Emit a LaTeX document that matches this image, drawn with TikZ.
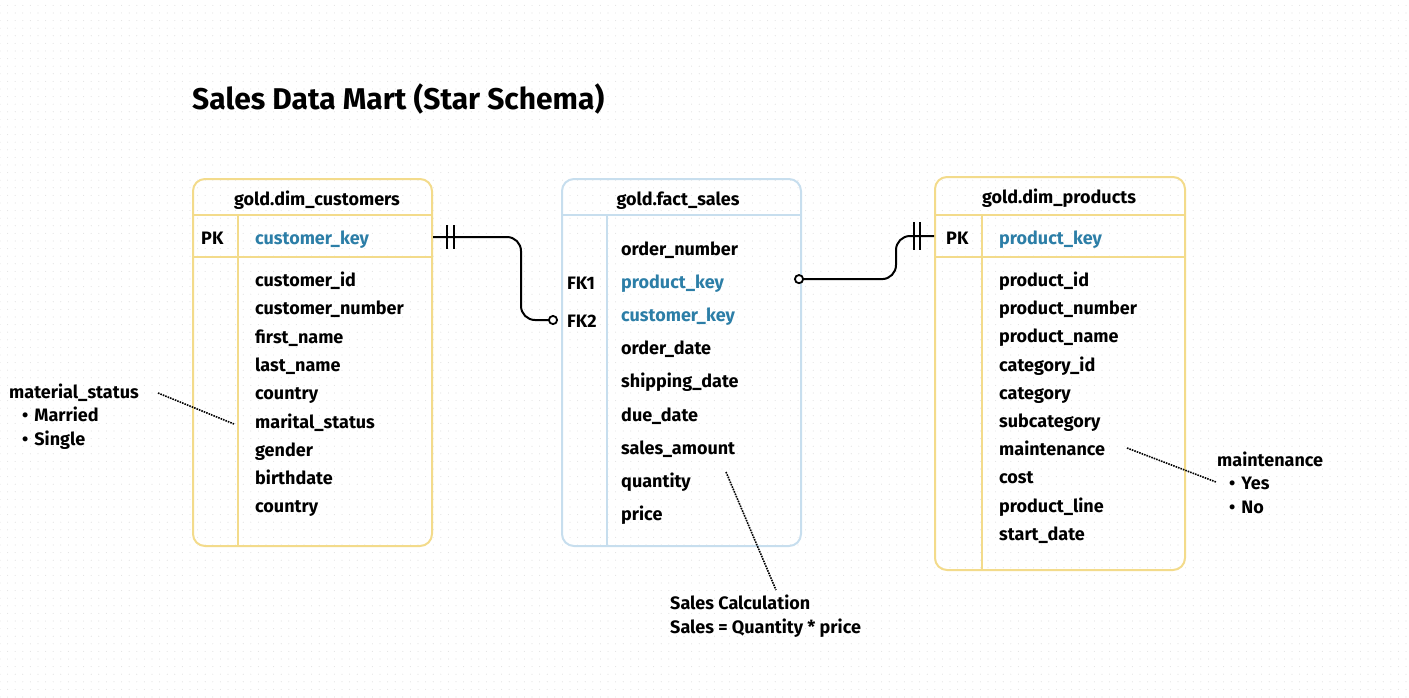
\documentclass[tikz,border=0pt]{standalone}
\usepackage{fontspec}
\setmainfont{Fira Sans}
\usetikzlibrary{positioning,calc,arrows.meta,patterns.meta}

\definecolor{goldline}{HTML}{F3DB8B}
\definecolor{factline}{HTML}{C7DEEE}
\definecolor{keyblue}{HTML}{2C7EA7}
\definecolor{griddot}{HTML}{E2E2E2}

\tikzset{
  tbl/.style={draw=#1, line width=2pt, rounded corners=12pt, inner sep=0pt},
  sep/.style={draw=#1, line width=2pt},
  fld/.style={anchor=west, inner sep=0pt, text height=12.5pt, text depth=3.5pt, yshift=-2pt,
    font=\bfseries\fontsize{18}{21}\selectfont},
  hdr/.style={fld, anchor=center},
  key/.style={fld, text=keyblue},
  conn/.style={line width=2pt, rounded corners=14pt},
  ring/.tip={Circle[open, fill=white, length=10pt, width=10pt, line width=1.8pt]},
  note/.style={densely dotted, line width=1.6pt},
}

\begin{document}
\begin{tikzpicture}[x=1pt, y=-1pt]
    \useasboundingbox (0,0) rectangle (1409,697);
    \fill[pattern={Dots[distance=7.6pt, radius=0.6pt]}, pattern color=griddot] (0,0) rectangle (1409,697);

    \node[anchor=base west, inner sep=0pt, font=\bfseries\fontsize{30}{34}\selectfont] (title) at (192,109) {Sales Data Mart (Star Schema)};

    % customers
    \node[tbl=goldline, minimum width=239pt, minimum height=367pt] (cust) at (312.5,362.5) {};
    \draw[sep=goldline] ([yshift=-37pt]cust.north west) -- ([yshift=-37pt]cust.north east);
    \draw[sep=goldline] ([yshift=-79pt]cust.north west) -- ([yshift=-79pt]cust.north east);
    \draw[sep=goldline] ([shift={(46pt,-37pt)}]cust.north west) -- ([xshift=46pt]cust.south west);
    \node[hdr] (custT) at (317,199) {gold.dim\_customers};
    \node[fld] (custPK) at (201,238) {PK};
    \node[key] (ckey) at (255,238) {customer\_key};
    \foreach \t [count=\i] in {customer\_id, customer\_number, first\_name, last\_name, country, marital\_status, gender, birthdate, country}
        \node[fld] (c\i) at (255,{280+28.3*(\i-1)}) {\t};

    % fact
    \node[tbl=factline, minimum width=239pt, minimum height=367pt] (fact) at (681.5,362.5) {};
    \draw[sep=factline] ([yshift=-37pt]fact.north west) -- ([yshift=-37pt]fact.north east);
    \draw[sep=factline] ([shift={(46pt,-37pt)}]fact.north west) -- ([xshift=46pt]fact.south west);
    \node[hdr] (factT) at (678,199) {gold.fact\_sales};
    \foreach \t/\s [count=\i] in {order\_number/fld, product\_key/key, customer\_key/key, order\_date/fld, shipping\_date/fld, due\_date/fld, sales\_amount/fld, quantity/fld, price/fld}
        \node[\s] (f\i) at (621,{249+33.1*(\i-1)}) {\t};
    \node[fld] (fk1) at (567,283) {FK1};
    \node[fld] (fk2) at (567,321) {FK2};

    % products
    \node[tbl=goldline, minimum width=250pt, minimum height=393pt] (prod) at (1060,373.5) {};
    \draw[sep=goldline] ([yshift=-39pt]prod.north west) -- ([yshift=-39pt]prod.north east);
    \draw[sep=goldline] ([yshift=-81pt]prod.north west) -- ([yshift=-81pt]prod.north east);
    \draw[sep=goldline] ([shift={(48pt,-39pt)}]prod.north west) -- ([xshift=48pt]prod.south west);
    \node[hdr] (prodT) at (1059,197) {gold.dim\_products};
    \node[fld] (prodPK) at (946,238) {PK};
    \node[key] (pkey) at (999,238) {product\_key};
    \foreach \t [count=\i] in {product\_id, product\_number, product\_name, category\_id, category, subcategory, maintenance, cost, product\_line, start\_date}
        \node[fld] (p\i) at (999,{280+28.2*(\i-1)}) {\t};

    % relations
    \coordinate (cOut) at ($(cust.east |- ckey)+(0,-3)$);
    \coordinate (fIn) at ($(fact.west |- fk2)+(-3,-3)$);
    \draw[conn, -ring] (cOut) -- ++(88,0) |- (fIn);
    \foreach \d in {14,21}
        \draw[line width=2pt] ($(cOut)+(\d,-12)$) -- ++(0,24);

    \coordinate (fOut) at ($(fact.east)+(-8,0)$);
    \coordinate (fOut) at ($(fOut |- f2)+(0,-5)$);
    \coordinate (pIn) at ($(prod.west |- pkey)+(0,-4)$);
    \draw[conn, ring-] (fOut) -- ++(102,0) |- (pIn);
    \foreach \d in {14,20}
        \draw[line width=2pt] ($(pIn)+(-\d,-14)$) -- ++(0,28);

    % notes
    \node[fld] (mat) at (9,392) {material\_status};
    \node[fld] (matA) at (22,415) {\textbullet\hspace{6pt}Married};
    \node[fld] (matB) at (22,439) {\textbullet\hspace{6pt}Single};
    \coordinate (matFrom) at (158,393);
    \coordinate (matTo) at (234,424);
    \draw[note] (matFrom) -- (matTo);

    \node[fld] (mnt) at (1217,460) {maintenance};
    \node[fld] (mntA) at (1229,483) {\textbullet\hspace{6pt}Yes};
    \node[fld] (mntB) at (1229,507) {\textbullet\hspace{6pt}No};
    \coordinate (mntFrom) at (1127,448);
    \coordinate (mntTo) at (1216,482);
    \draw[note] (mntFrom) -- (mntTo);

    \node[fld] (calc) at (670,603) {Sales Calculation};
    \node[fld] (calcB) at (670,627) {Sales = Quantity * price};
    \coordinate (calcFrom) at (726,472);
    \coordinate (calcTo) at (776,590);
    \draw[note] (calcFrom) -- (calcTo);
\end{tikzpicture}
\end{document}
